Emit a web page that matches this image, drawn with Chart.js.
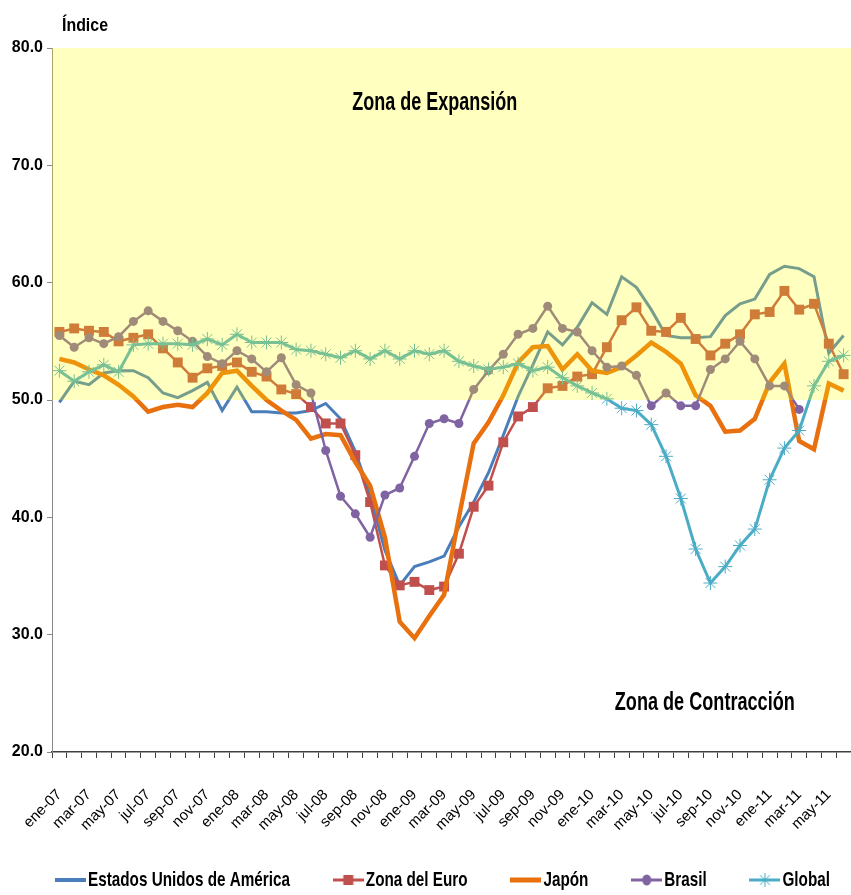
<!DOCTYPE html>
<html>
<head>
<meta charset="utf-8">
<script src="https://cdn.jsdelivr.net/npm/chart.js@4.4.1/dist/chart.umd.min.js"></script>
<style>
  html, body { margin: 0; padding: 0; background: #fff; overflow: hidden; }
  #pmi { display: block; }
</style>
</head>
<body>
<canvas id="pmi" width="851" height="895"></canvas>
<script>
const meses = [
  'ene-07','feb-07','mar-07','abr-07','may-07','jun-07','jul-07','ago-07','sep-07','oct-07','nov-07','dic-07',
  'ene-08','feb-08','mar-08','abr-08','may-08','jun-08','jul-08','ago-08','sep-08','oct-08','nov-08','dic-08',
  'ene-09','feb-09','mar-09','abr-09','may-09','jun-09','jul-09','ago-09','sep-09','oct-09','nov-09','dic-09',
  'ene-10','feb-10','mar-10','abr-10','may-10','jun-10','jul-10','ago-10','sep-10','oct-10','nov-10','dic-10',
  'ene-11','feb-11','mar-11','abr-11','may-11','jun-11'
];

const eeuu = [49.8, 51.6, 51.3, 52.3, 52.5, 52.5, 51.9, 50.6, 50.2, 50.8, 51.5, 49.1,
  51.1, 49.0, 49.0, 48.9, 48.9, 49.1, 49.7, 48.4, 45.6, 41.9, 37.2, 34.2,
  35.8, 36.2, 36.7, 39.2, 41.3, 43.8, 47.0, 50.3, 53.0, 55.8, 54.7, 56.2,
  58.3, 57.3, 60.5, 59.6, 57.7, 55.5, 55.3, 55.3, 55.4, 57.2, 58.2, 58.6,
  60.7, 61.4, 61.2, 60.5, 54.0, 55.5];

const zonaEuro = [55.8, 56.1, 55.9, 55.8, 55.0, 55.3, 55.6, 54.4, 53.2, 51.9, 52.7, 52.9,
  53.2, 52.4, 52.0, 50.9, 50.5, 49.4, 48.0, 48.0, 45.3, 41.3, 35.9, 34.2,
  34.5, 33.8, 34.1, 36.9, 40.9, 42.7, 46.4, 48.6, 49.4, 51.0, 51.2, 52.0,
  52.2, 54.5, 56.8, 57.9, 55.9, 55.8, 57.0, 55.2, 53.8, 54.8, 55.6, 57.3,
  57.5, 59.3, 57.7, 58.2, 54.8, 52.2];

const japon = [53.5, 53.2, 52.6, 52.1, 51.3, 50.3, 49.0, 49.4, 49.6, 49.4, 50.6, 52.3,
  52.5, 51.2, 50.0, 49.1, 48.3, 46.7, 47.1, 47.0, 44.7, 42.7, 38.3, 31.1,
  29.7, 31.6, 33.4, 40.0, 46.3, 48.1, 50.4, 53.2, 54.5, 54.6, 52.6, 53.9,
  52.5, 52.3, 52.8, 53.8, 54.9, 54.1, 53.1, 50.4, 49.5, 47.3, 47.4, 48.4,
  51.5, 53.1, 46.5, 45.8, 51.4, 50.8];

const brasil = [55.5, 54.5, 55.3, 54.8, 55.4, 56.7, 57.6, 56.7, 55.9, 55.0, 53.7, 53.1,
  54.2, 53.5, 52.4, 53.6, 51.3, 50.6, 45.7, 41.8, 40.3, 38.3, 41.9, 42.5,
  45.2, 48.0, 48.4, 48.0, 50.9, 52.5, 53.9, 55.6, 56.1, 58.0, 56.1, 55.8,
  54.2, 52.8, 52.9, 52.1, 49.5, 50.6, 49.5, 49.5, 52.6, 53.5, 55.0, 53.5,
  51.2, 51.2, 49.2, null, null, null];

const global = [52.5, 51.6, 52.4, 53.0, 52.4, 54.7, 54.8, 54.8, 54.8, 54.7, 55.2, 54.7,
  55.6, 54.9, 54.9, 54.9, 54.3, 54.2, 53.9, 53.6, 54.2, 53.5, 54.2, 53.5,
  54.2, 53.9, 54.2, 53.3, 52.9, 52.6, 52.8, 53.1, 52.5, 52.8, 51.9, 51.2,
  50.6, 50.1, 49.3, 49.1, 47.9, 45.2, 41.6, 37.3, 34.4, 35.8, 37.6, 39.0,
  43.2, 45.9, 47.4, 51.2, 53.3, 53.8];

const sans = "'Liberation Sans', Arial, sans-serif";

// texto estrecho: la fuente se comprime en horizontal hasta el ancho pedido
function textoEstrecho(ctx, txt, x, y, font, ancho, align) {
  ctx.save();
  ctx.font = font;
  const sx = ancho / ctx.measureText(txt).width;
  ctx.translate(x, y);
  ctx.scale(sx, 1);
  ctx.textAlign = align || 'left';
  ctx.textBaseline = 'middle';
  ctx.fillText(txt, 0, 0);
  ctx.restore();
}

// icono de leyenda: linea con marcador
function legendIcon(color, lw, marker) {
  const w = 31, h = 18;
  const c = document.createElement('canvas');
  c.width = w; c.height = h;
  const g = c.getContext('2d');
  g.strokeStyle = color; g.fillStyle = color; g.lineWidth = lw;
  g.beginPath(); g.moveTo(0, h / 2); g.lineTo(w, h / 2); g.stroke();
  const cx = w / 2, cy = h / 2;
  if (marker === 'rect') {
    g.fillRect(cx - 5, cy - 5, 10, 10);
  } else if (marker === 'circle') {
    g.beginPath(); g.ellipse(cx, cy, 4.5, 5.5, 0, 0, Math.PI * 2); g.fill();
  } else if (marker === 'star') {
    g.lineWidth = 1;
    g.beginPath();
    for (let k = 0; k < 4; k++) {
      const a = k * Math.PI / 4;
      g.moveTo(cx - Math.cos(a) * 7, cy - Math.sin(a) * 7);
      g.lineTo(cx + Math.cos(a) * 7, cy + Math.sin(a) * 7);
    }
    g.stroke();
  }
  return c;
}

const iconos = [
  legendIcon('#4A7EBB', 4, null),
  legendIcon('#C0504D', 3, 'rect'),
  legendIcon('#E8700F', 5, null),
  legendIcon('#8064A2', 3, 'circle'),
  legendIcon('#4BACC6', 3, 'star')
];

// zona de expansion: velo amarillo translucido sobre las series
const zonas = {
  id: 'zonas',
  afterDatasetsDraw(chart) {
    const { ctx, chartArea, scales } = chart;
    const top = scales.y.getPixelForValue(80);
    const bot = scales.y.getPixelForValue(50);
    ctx.save();
    ctx.fillStyle = 'rgba(255,255,0,0.25)';
    ctx.fillRect(chartArea.left, top, chartArea.right - chartArea.left, bot - top);
    ctx.restore();
  },
  afterDraw(chart) {
    const { ctx, chartArea, scales } = chart;
    const w = chartArea.right - chartArea.left;
    ctx.fillStyle = '#000';
    textoEstrecho(ctx, 'Zona de Expansión', chartArea.left + w * 0.479, scales.y.getPixelForValue(75.3),
      'bold 25px ' + sans, 165, 'center');
    textoEstrecho(ctx, 'Zona de Contracción', chartArea.left + w * 0.817, scales.y.getPixelForValue(24.2),
      'bold 25px ' + sans, 180, 'center');
    textoEstrecho(ctx, 'Índice', chartArea.left + 10, 26, 'bold 19px ' + sans, 46, 'left');

    // leyenda inferior
    const font = 'bold 21px ' + sans;
    ctx.save();
    ctx.font = font;
    const sx = 202 / ctx.measureText(chart.data.datasets[0].label).width;
    const items = chart.data.datasets.map((ds, i) => ({
      label: ds.label, icon: iconos[i], tw: ctx.measureText(ds.label).width * sx
    }));
    ctx.restore();
    const x0 = 55, x1 = 830, y = 880;
    const total = items.reduce((s, it) => s + it.icon.width + 2 + it.tw, 0);
    const gap = (x1 - x0 - total) / (items.length - 1);
    let x = x0;
    items.forEach(it => {
      ctx.drawImage(it.icon, x, y - it.icon.height / 2);
      x += it.icon.width + 2;
      ctx.save();
      ctx.font = font;
      ctx.fillStyle = '#000';
      ctx.textBaseline = 'middle';
      ctx.translate(x, y);
      ctx.scale(sx, 1);
      ctx.fillText(it.label, 0, 0);
      ctx.restore();
      x += it.tw + gap;
    });
  }
};

new Chart(document.getElementById('pmi'), {
  type: 'line',
  data: {
    labels: meses,
    datasets: [
      { label: 'Estados Unidos de América', data: eeuu, borderColor: '#4A7EBB', borderWidth: 3,
        pointRadius: 0, order: 5 },
      { label: 'Zona del Euro', data: zonaEuro, borderColor: '#C0504D', borderWidth: 2.5,
        pointStyle: 'rect', pointRadius: 7, pointBackgroundColor: '#C0504D', pointBorderWidth: 0, order: 4 },
      { label: 'Japón', data: japon, borderColor: '#E8700F', borderWidth: 4.5,
        pointRadius: 0, order: 3 },
      { label: 'Brasil', data: brasil, borderColor: '#8064A2', borderWidth: 2.5,
        pointStyle: 'circle', pointRadius: 4.5, pointBackgroundColor: '#8064A2', pointBorderWidth: 0, order: 2 },
      { label: 'Global', data: global, borderColor: '#4BACC6', borderWidth: 3,
        pointStyle: 'star', pointRadius: 7, pointBorderColor: '#4BACC6', pointBorderWidth: 1, order: 1 }
    ]
  },
  options: {
    responsive: false,
    animation: false,
    // sin autoPadding: el area llega al borde derecho como en el original
    layout: { autoPadding: false, padding: { top: 48, right: 0, left: 0, bottom: 43 } },
    elements: { line: { tension: 0 } },
    scales: {
      x: {
        offset: true,
        afterFit(scale) { scale.height = 100; scale.paddingLeft = 0; scale.paddingRight = 0; },
        border: { color: '#404040', width: 1.5 },
        grid: { offset: true, drawOnChartArea: false, drawTicks: true, tickLength: 6, color: '#404040' },
        ticks: {
          autoSkip: false, minRotation: 45, maxRotation: 45, padding: 28,
          color: '#000', font: { family: sans, size: 15 },
          callback(v, i) { return i % 2 === 0 ? meses[i] : ''; }
        }
      },
      y: {
        min: 20, max: 80,
        afterFit(scale) { scale.width = 52; },
        border: { color: '#888', width: 1 },
        grid: { drawOnChartArea: false, tickLength: 5, color: '#888' },
        ticks: {
          stepSize: 10, padding: 4, color: '#000',
          font: { family: sans, size: 16, weight: 'bold' },
          callback(v) { return v.toFixed(1); }
        }
      }
    },
    plugins: {
      tooltip: { enabled: false },
      legend: { display: false }
    }
  },
  plugins: [zonas]
});
</script>
</body>
</html>
